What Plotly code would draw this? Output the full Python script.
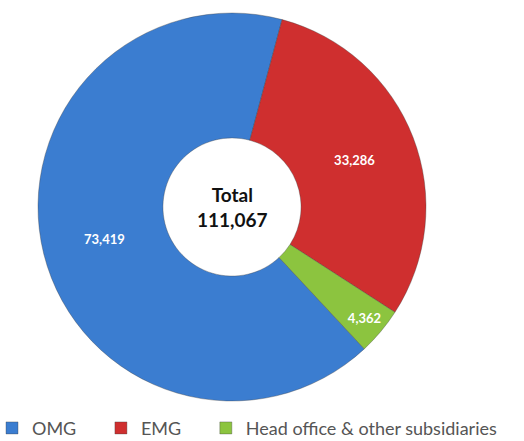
import plotly.graph_objects as go

# Headcount by business segment
labels = ["OMG", "EMG", "Head office & other subsidiaries"]
values = [73419, 33286, 4362]
colors = ["#3b7dd0", "#cf2f2f", "#8cc43f"]
total = sum(values)

# trailing non-breaking spaces widen the first two legend entries
legend_pad = ["\u00a0" * 6, "\u00a0" * 6, ""]
legend_names = [lab + pad for lab, pad in zip(labels, legend_pad)]

dom_x = [0.0725, 0.813]
dom_y = [0.0907, 0.9705]

fig = go.Figure(
    go.Pie(
        labels=legend_names,
        values=values,
        hole=0.356,
        sort=False,
        direction="clockwise",
        rotation=137,
        marker=dict(colors=colors, line=dict(color="rgba(60,60,60,0.35)", width=1)),
        texttemplate="%{value:,}",
        textposition="inside",
        insidetextorientation="horizontal",
        textfont=dict(family="Lato", size=13, color="white", weight="bold"),
        domain=dict(x=dom_x, y=dom_y),
        hoverinfo="label+value",
    )
)

fig.add_annotation(
    text=f"Total<br>{total:,}",
    x=sum(dom_x) / 2,
    y=sum(dom_y) / 2,
    xref="paper",
    yref="paper",
    showarrow=False,
    font=dict(family="Lato", size=19, color="#111111", weight="bold"),
)

fig.update_layout(
    width=524,
    height=441,
    margin=dict(l=0, r=0, t=0, b=0, autoexpand=False),
    paper_bgcolor="white",
    plot_bgcolor="white",
    showlegend=True,
    legend=dict(
        orientation="h",
        x=0,
        y=0.029,
        xanchor="left",
        yanchor="middle",
        indentation=-8,
        bgcolor="rgba(0,0,0,0)",
        font=dict(family="Lato", size=18, color="#555555"),
        itemwidth=30,
        traceorder="normal",
    ),
)

fig.write_html("out.html")
